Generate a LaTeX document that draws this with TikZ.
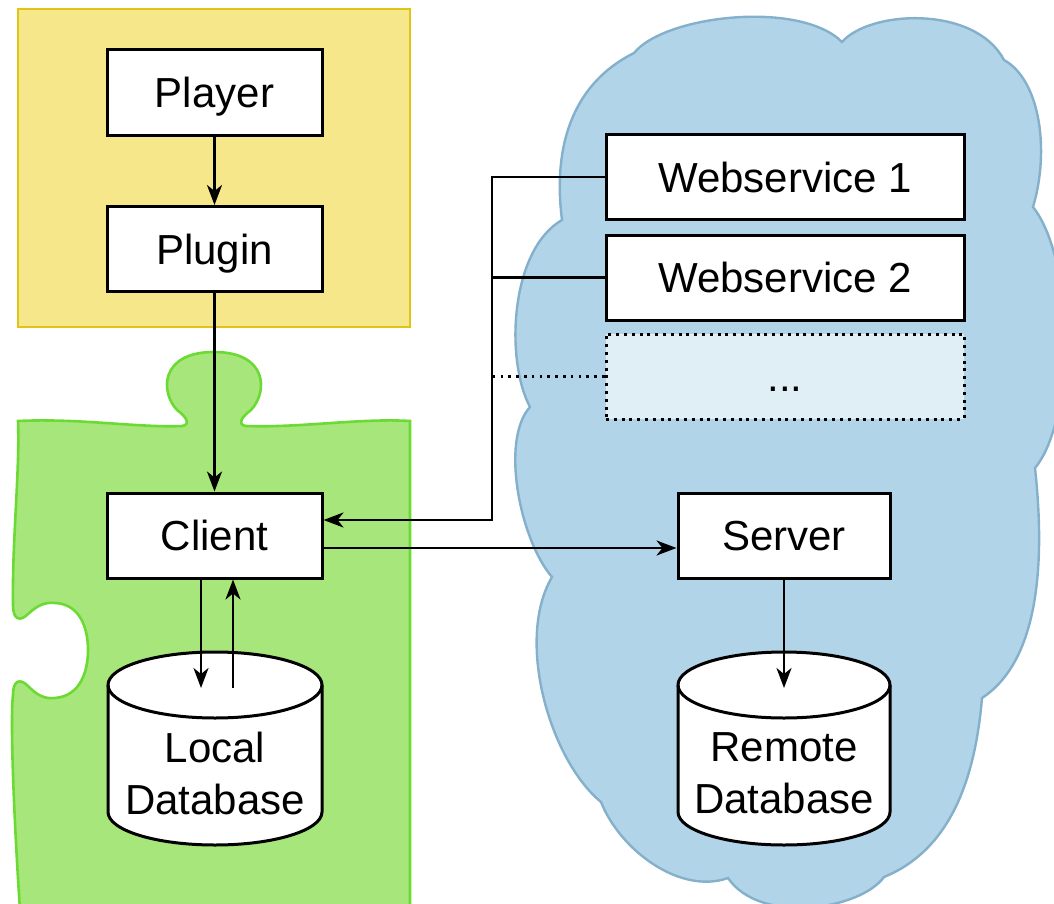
\documentclass[tikz,border=0pt]{standalone}
\usepackage{fontspec}
\setmainfont{Liberation Sans}
\usetikzlibrary{arrows.meta,calc}

\definecolor{yfill}{RGB}{246,231,139}
\definecolor{ydraw}{RGB}{224,196,22}
\definecolor{gfill}{RGB}{166,230,122}
\definecolor{gdraw}{RGB}{108,218,52}
\definecolor{cfill}{RGB}{177,212,232}
\definecolor{cdraw}{RGB}{132,176,203}
\definecolor{dfill}{RGB}{224,238,246}

\begin{document}
\begin{tikzpicture}[x=0.5pt, y=0.5pt,
  box/.style={draw=black, fill=white, line width=1.5pt, minimum width=107.5pt, minimum height=42.5pt,
    inner sep=0pt, text height=15pt, text depth=0pt, font=\fontsize{21}{26}\selectfont},
  wide/.style={box, minimum width=179pt},
  db/.style={draw=black, fill=white, line width=1.5pt},
  dblabel/.style={align=center, inner sep=0pt, font=\fontsize{21}{26}\selectfont},
  ln/.style={black, line width=1.3pt},
  arr/.style={ln, -{Stealth[length=10pt, width=7.5pt, inset=3pt]}},
  dotln/.style={ln, dash pattern=on 1.3pt off 2.6pt}]
\clip (0,0) rectangle (1054,-904);
% regions
\draw[ydraw, fill=yfill, line width=1.2pt] (18,-9) rectangle (410,-327);
\draw[gdraw, fill=gfill, line width=1.3pt] (18,-421) .. controls (80,-418) and (140,-428) .. (182,-426)
  .. controls (190,-425) and (188,-418) .. (177,-410)
  .. controls (160,-392) and (160,-352) .. (214,-352)
  .. controls (268,-352) and (268,-392) .. (251,-410)
  .. controls (240,-418) and (238,-425) .. (246,-426)
  .. controls (300,-428) and (360,-418) .. (410,-421)
  -- (410,-910) -- (20,-910)
  .. controls (14,-820) and (10,-720) .. (13,-695)
  .. controls (13,-680) and (20,-678) .. (28,-686)
  .. controls (38,-696) and (45,-699) .. (55,-698)
  .. controls (80,-696) and (88,-672) .. (88,-650)
  .. controls (88,-628) and (80,-604) .. (55,-603)
  .. controls (45,-602) and (38,-605) .. (28,-614)
  .. controls (20,-622) and (13,-620) .. (13,-605)
  .. controls (12,-540) and (20,-470) .. (18,-421) -- cycle;
\draw[cdraw, fill=cfill, line width=1.2pt] (634,-53)
  .. controls (665,-15) and (800,0) .. (842,-42)
  .. controls (870,-10) and (975,-5) .. (1004,-60)
  .. controls (1040,-80) and (1050,-150) .. (1033,-207)
  .. controls (1075,-260) and (1075,-420) .. (1035,-468)
  .. controls (1045,-560) and (1040,-660) .. (982,-698)
  .. controls (975,-780) and (950,-850) .. (884,-877)
  .. controls (860,-910) and (760,-925) .. (728,-878)
  .. controls (680,-895) and (620,-850) .. (601,-802)
  .. controls (550,-760) and (515,-640) .. (552,-577)
  .. controls (520,-540) and (500,-440) .. (530,-407)
  .. controls (505,-360) and (510,-250) .. (562,-220)
  .. controls (553,-150) and (570,-85) .. (634,-53) -- cycle;
% databases
\foreach \cx/\rx in {215/107, 784/106} {
  \draw[db] (\cx-\rx,-685) -- (\cx-\rx,-812) arc[start angle=180, end angle=360, x radius=\rx, y radius=33]
    -- (\cx+\rx,-685) arc[start angle=0, end angle=180, x radius=\rx, y radius=33] -- cycle;
  \draw[db, fill=none] (\cx-\rx,-685) arc[start angle=180, end angle=360, x radius=\rx, y radius=33];
}
% nodes
\node[box] (player) at (214.5,-92.5) {Player};
\node[box] (plugin) at (214.5,-249) {Plugin};
\node[box] (client) at (214.5,-535.5) {Client};
\node[wide] (ws1) at (785,-177) {Webservice 1};
\node[wide] (ws2) at (785,-277.5) {Webservice 2};
\node[wide, fill=dfill, dash pattern=on 1.5pt off 2.4pt] (wsmore) at (785,-376.5) {...};
\node[box, minimum width=106pt] (server) at (784,-535.5) {Server};
\node[dblabel] (ldb) at (215,-773) {Local\\Database};
\node[dblabel] (rdb) at (784,-773) {Remote\\Database};
\coordinate (ldbtop) at (214.5,-688);
\coordinate (rdbtop) at (784,-688);
\coordinate (bus) at (492,-520);
% connectors
\draw[arr] (player) -- (plugin);
\draw[arr] (plugin) -- (client);
\draw[arr] (ws1.west) -- (ws1.west -| bus) -- (bus) -- (bus -| client.east);
\draw[ln] (ws2.west) -- (ws2.west -| bus);
\draw[dotln] (wsmore.west) -- (wsmore.west -| bus);
\draw[arr] ($(client.east)+(0,-12.5)$) -- ($(server.west)+(0,-12.5)$);
\draw[arr] ($(client.south)+(-13.5,0)$) -- ($(ldbtop)+(-13.5,0)$);
\draw[arr] ($(ldbtop)+(18.5,0)$) -- ($(client.south)+(18.5,0)$);
\draw[arr] (server) -- (rdbtop);
\end{tikzpicture}
\end{document}
